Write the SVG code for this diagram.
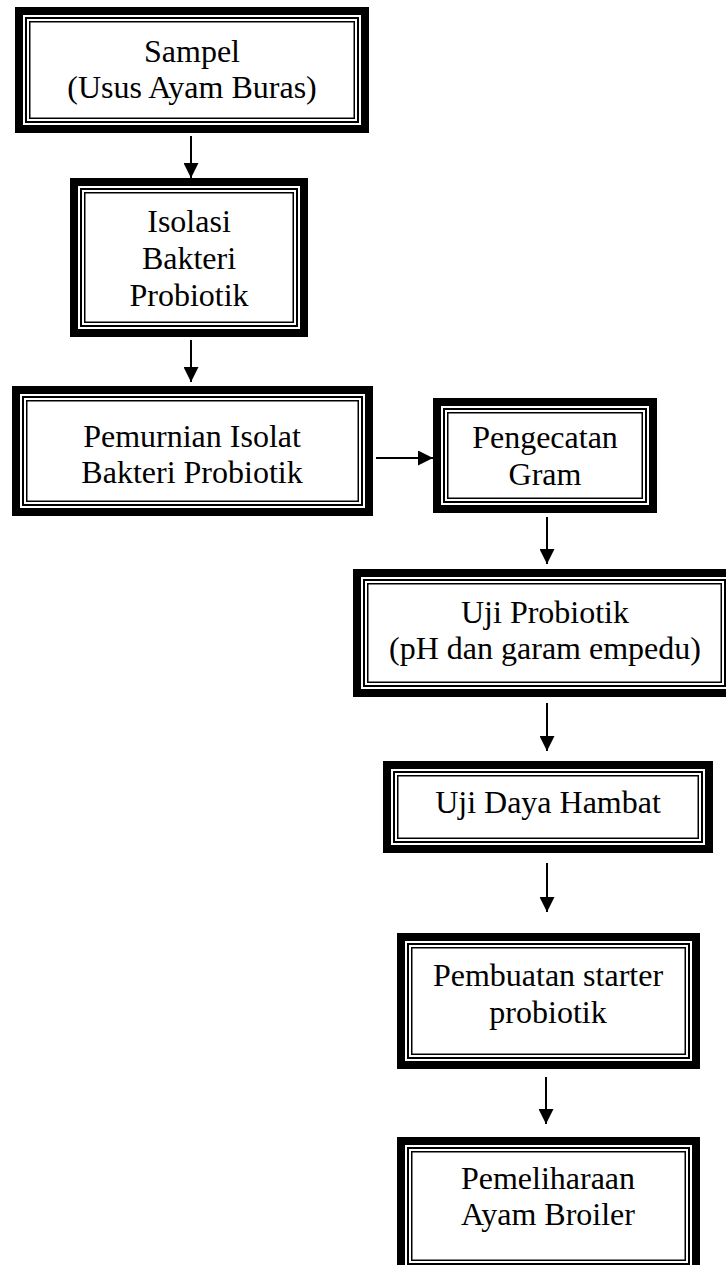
<svg xmlns="http://www.w3.org/2000/svg" width="726" height="1265" viewBox="0 0 726 1265">
<style>
.o{fill:#fff;stroke:#000;stroke-width:8}
.m{fill:none;stroke:#000;stroke-width:2}
.i{fill:none;stroke:#000;stroke-width:1.5}
text{font-family:"Liberation Serif","Times New Roman",serif;font-size:32px;fill:#000;text-anchor:middle}
.c line{stroke:#000;stroke-width:2;marker-end:url(#ah)}
</style>
<defs>
<marker id="ah" markerUnits="userSpaceOnUse" markerWidth="15" markerHeight="15" refX="15" refY="7.5" orient="auto">
<path d="M0,0 L15,7.5 L0,15 z" fill="#000"/>
</marker>
</defs>
<rect width="726" height="1265" fill="#fff"/>
<g id="n1">
<rect class="o" x="19" y="11" width="346" height="118"/>
<rect class="m" x="26" y="18" width="332" height="104"/>
<rect class="i" x="29.75" y="21.75" width="324.5" height="96.5"/>
<text x="192" y="62">Sampel</text>
<text x="192" y="98">(Usus Ayam Buras)</text>
</g>
<g id="n2">
<rect class="o" x="74" y="182" width="230" height="151"/>
<rect class="m" x="81" y="189" width="216" height="137"/>
<rect class="i" x="84.75" y="192.75" width="208.5" height="129.5"/>
<text x="189" y="232">Isolasi</text>
<text x="189" y="269">Bakteri</text>
<text x="189" y="306">Probiotik</text>
</g>
<g id="n3">
<rect class="o" x="16" y="390" width="353" height="122"/>
<rect class="m" x="23" y="397" width="339" height="108"/>
<rect class="i" x="26.75" y="400.75" width="331.5" height="100.5"/>
<text x="192" y="447">Pemurnian Isolat</text>
<text x="192" y="483">Bakteri Probiotik</text>
</g>
<g id="n4">
<rect class="o" x="437" y="402" width="216" height="107"/>
<rect class="m" x="444" y="409" width="202" height="93"/>
<rect class="i" x="447.75" y="412.75" width="194.5" height="85.5"/>
<text x="545" y="448">Pengecatan</text>
<text x="545" y="485">Gram</text>
</g>
<g id="n5">
<rect class="o" x="357" y="573" width="375" height="120"/>
<rect class="m" x="364" y="580" width="361" height="106"/>
<rect class="i" x="367.75" y="583.75" width="353.5" height="98.5"/>
<text x="545" y="623">Uji Probiotik</text>
<text x="545" y="659">(pH dan garam empedu)</text>
</g>
<g id="n6">
<rect class="o" x="387" y="765" width="322" height="84"/>
<rect class="m" x="394" y="772" width="308" height="70"/>
<rect class="i" x="397.75" y="775.75" width="300.5" height="62.5"/>
<text x="548" y="813">Uji Daya Hambat</text>
</g>
<g id="n7">
<rect class="o" x="401" y="937" width="295" height="128"/>
<rect class="m" x="408" y="944" width="281" height="114"/>
<rect class="i" x="411.75" y="947.75" width="273.5" height="106.5"/>
<text x="548" y="986">Pembuatan starter</text>
<text x="548" y="1023">probiotik</text>
</g>
<g id="n8">
<rect class="o" x="401" y="1141" width="295" height="130"/>
<rect class="m" x="408" y="1148" width="281" height="116"/>
<rect class="i" x="411.75" y="1151.75" width="273.5" height="108.5"/>
<text x="548" y="1189">Pemeliharaan</text>
<text x="548" y="1225">Ayam Broiler</text>
</g>
<g id="connectors" class="c">
<line x1="191" y1="136" x2="191" y2="178"/>
<line x1="191" y1="340" x2="191" y2="382"/>
<line x1="376" y1="458" x2="433" y2="458"/>
<line x1="547" y1="517" x2="547" y2="564"/>
<line x1="547" y1="703" x2="547" y2="751"/>
<line x1="547" y1="863" x2="547" y2="912"/>
<line x1="546" y1="1077" x2="546" y2="1124"/>
</g>
</svg>
